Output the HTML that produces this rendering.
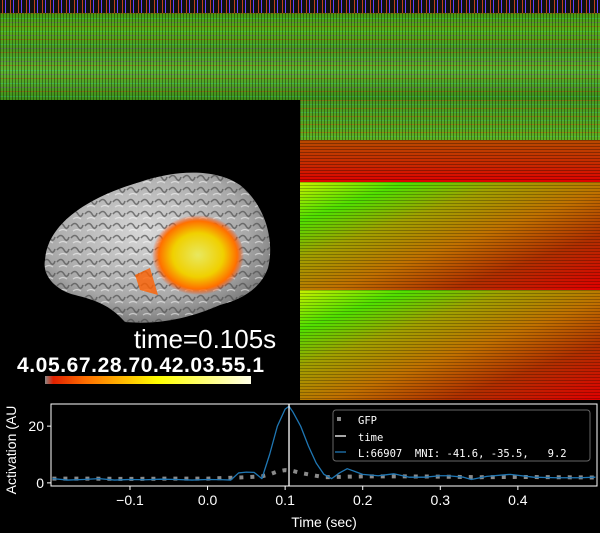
<!DOCTYPE html>
<html><head><meta charset="utf-8"><style>
body{margin:0;background:#000;width:600px;height:533px;overflow:hidden;position:relative;font-family:"Liberation Sans",sans-serif}
.abs{position:absolute}
#top{left:0;top:0;width:600px;height:100px;
background:
repeating-linear-gradient(90deg,rgba(0,0,0,.35) 0 1px,transparent 1px 3px),
repeating-linear-gradient(180deg,rgba(255,0,0,.25) 0 1px,transparent 1px 5px,rgba(0,255,255,.18) 5px 6px,transparent 6px 9px,rgba(160,0,255,.2) 9px 10px,transparent 10px 13px),
linear-gradient(180deg,#3a8a10,#58b018 30%,#4a9a20 50%,#60b830 70%,#3f8f18)}
#ticks{left:0;top:0;width:600px;height:13px;background:repeating-linear-gradient(90deg,#111 0 2px,#c04020 2px 3px,#111 3px 5px,#6040ff 5px 6px,#111 6px 8px)}
#rnoise{left:300px;top:100px;width:300px;height:40px;background:
repeating-linear-gradient(90deg,rgba(0,0,0,.35) 0 1px,transparent 1px 3px),
repeating-linear-gradient(180deg,rgba(255,40,0,.3) 0 1px,transparent 1px 4px,rgba(0,255,255,.15) 4px 5px,transparent 5px 8px),
linear-gradient(180deg,#4a9a20,#60b020)}
#band1{left:300px;top:140px;width:300px;height:42px;background:
repeating-linear-gradient(180deg,rgba(0,0,0,.3) 0 1px,transparent 1px 3px),
linear-gradient(180deg,#b84a00,#c82800 60%,#e00000)}
.band2{left:300px;width:300px;background:
repeating-linear-gradient(180deg,rgba(0,0,0,.25) 0 1px,transparent 1px 3px),
linear-gradient(160deg,#c8f000 0%,#50e000 18%,#a0a000 35%,#c07000 55%,#b03000 75%,#e00000 100%)}
</style></head><body>
<div id="top" class="abs"></div>
<div id="ticks" class="abs"></div>
<div id="rnoise" class="abs"></div>
<div id="band1" class="abs"></div>
<div class="abs band2" style="top:182px;height:108px"></div>
<div class="abs band2" style="top:290px;height:110px"></div>

<svg class="abs" style="left:0;top:100px" width="300" height="300">
<defs>
<radialGradient id="bg" cx="45%" cy="40%" r="65%"><stop offset="0" stop-color="#d8d8d8"/><stop offset="0.7" stop-color="#a8a8a8"/><stop offset="1" stop-color="#707070"/></radialGradient>
<radialGradient id="act" cx="50%" cy="50%" r="50%"><stop offset="0" stop-color="#e8e860"/><stop offset="0.55" stop-color="#f0d000"/><stop offset="0.85" stop-color="#ff7000"/><stop offset="1" stop-color="#ff4000" stop-opacity="0"/></radialGradient>
<pattern id="gyri" width="14" height="12" patternUnits="userSpaceOnUse"><path d="M1,6 Q5,1 8,6 T13,5" stroke="#505050" stroke-width="1.6" fill="none" opacity=".7"/><path d="M3,11 Q7,8 11,11" stroke="#fff" stroke-width="1.2" fill="none" opacity=".5"/></pattern>
</defs>
<g>
<path d="M45,160 C48,120 95,95 140,82 C175,70 215,68 240,85 C265,105 275,140 268,168 C260,190 240,200 220,205 C190,218 160,225 125,222 C110,205 95,200 75,195 C55,190 42,175 45,160Z" fill="url(#bg)"/>
<path d="M45,160 C48,120 95,95 140,82 C175,70 215,68 240,85 C265,105 275,140 268,168 C260,190 240,200 220,205 C190,218 160,225 125,222 C110,205 95,200 75,195 C55,190 42,175 45,160Z" fill="url(#gyri)"/>
</g>
<ellipse cx="198" cy="155" rx="46" ry="40" fill="url(#act)"/>
<path d="M135,175 L150,168 L158,195 L140,190Z" fill="#ff6000" opacity=".8"/>
<text x="205" y="248" fill="#fff" font-size="26" text-anchor="middle">time=0.105s</text>
<text x="17" y="272" fill="#fff" font-size="21" font-weight="bold" textLength="247">4.05.67.28.70.42.03.55.1</text>
<defs><linearGradient id="cb"><stop offset="0" stop-color="#888"/><stop offset="0.04" stop-color="#e02000"/><stop offset="0.2" stop-color="#ff7000"/><stop offset="0.55" stop-color="#ffff00"/><stop offset="1" stop-color="#ffffe8"/></linearGradient></defs>
<rect x="45" y="276" width="206" height="8" fill="url(#cb)"/>
</svg>

<svg id="chart" class="abs" style="left:0;top:400px" width="600" height="133"></svg>
<script>
const times=[-0.2,-0.18,-0.16,-0.14,-0.12,-0.1,-0.08,-0.06,-0.04,-0.02,0,0.02,0.03,0.04,0.05,0.06,0.07,0.08,0.09,0.1,0.105,0.11,0.12,0.13,0.14,0.15,0.16,0.17,0.18,0.19,0.2,0.22,0.24,0.26,0.28,0.3,0.31,0.33,0.34,0.36,0.39,0.42,0.45,0.48,0.5];
const activation=[1.5,1,1.2,1.5,1,1.2,1.1,1.3,1.2,1,1.2,1.1,1,3.5,3.8,3.7,1.5,10,20,26,27,25,20,13,7,3,1.5,3.5,5,4,3,2.5,3.2,2,2,2.5,2.5,2,1.2,2.3,3,2,1.8,1.8,2];
const gfpTimes=[-0.2,-0.15,-0.1,-0.05,0,0.05,0.07,0.08,0.09,0.1,0.11,0.12,0.13,0.14,0.15,0.2,0.25,0.3,0.35,0.4,0.45,0.5];
const gfp=[1.5,1.5,1.4,1.5,1.5,2,2.3,3,4,4.5,4.2,3.5,3,2.5,2,2.3,2.3,2.2,2,2.1,2,1.9];
const xTicks=[-0.1,0,0.1,0.2,0.3,0.4];
const xTickLabels=["\u22120.1","0.0","0.1","0.2","0.3","0.4"];
const yTicks=[0,20];
const cursorTime=0.105;
const X0=51,X1=597,Y0=4,Y1=86;
const tmin=-0.2018,tmax=0.502,vmin=-1.1,vmax=27.8;
const sx=t=>X0+(t-tmin)/(tmax-tmin)*(X1-X0);
const sy=v=>Y1-(v-vmin)/(vmax-vmin)*(Y1-Y0);
const svg=document.getElementById('chart');const NS='http://www.w3.org/2000/svg';
function mk(tag,attrs,parent){const e=document.createElementNS(NS,tag);for(const k in attrs)e.setAttribute(k,attrs[k]);(parent||svg).appendChild(e);return e;}
const clip=mk('clipPath',{id:'cp'});mk('rect',{x:X0,y:Y0,width:X1-X0,height:Y1-Y0},clip);
const g=mk('polyline',{points:gfpTimes.map((t,i)=>sx(t)+','+sy(gfp[i])).join(' '),fill:'none',stroke:'#8a8a8a','stroke-width':4,'stroke-dasharray':'4 7','clip-path':'url(#cp)'});


const b=mk('polyline',{points:times.map((t,i)=>sx(t)+','+sy(activation[i])).join(' '),fill:'none',stroke:'#1f77b4','stroke-width':1.3,'stroke-linejoin':'round','clip-path':'url(#cp)'});


const c=mk('line',{x1:sx(cursorTime),x2:sx(cursorTime),y1:Y0,y2:Y1,stroke:'#fff','stroke-width':1.3});


const fr=mk('rect',{x:X0,y:Y0,width:X1-X0,height:Y1-Y0,fill:'none',stroke:'#fff','stroke-width':1});


xTicks.forEach((t,i)=>{mk('line',{x1:sx(t),x2:sx(t),y1:Y1,y2:Y1+4,stroke:'#fff'});
const tx=mk('text',{x:sx(t),y:Y1+19,fill:'#fff','font-size':14,'text-anchor':'middle'});tx.textContent=xTickLabels[i];

});
yTicks.forEach(v=>{mk('line',{x1:X0-4,x2:X0,y1:sy(v),y2:sy(v),stroke:'#fff'});
const tx=mk('text',{x:X0-7,y:sy(v)+5,fill:'#fff','font-size':14,'text-anchor':'end'});tx.textContent=v;

});
const xl=mk('text',{x:324,y:127,fill:'#fff','font-size':14,'text-anchor':'middle'});xl.textContent='Time (sec)';


const yl=mk('text',{x:0,y:0,fill:'#fff','font-size':14,'text-anchor':'middle',transform:'translate(16,50) rotate(-90)'});yl.textContent='Activation (AU';


const lg=mk('g',{});


mk('rect',{x:333,y:10,width:257,height:51,rx:3,fill:'#000',stroke:'#666','fill-opacity':0.8},lg);
mk('rect',{x:337,y:17,width:4,height:4,fill:'#8a8a8a'},lg);
mk('line',{x1:335,x2:346,y1:36,y2:36,stroke:'#fff','stroke-width':1.3},lg);
mk('line',{x1:335,x2:346,y1:52,y2:52,stroke:'#1f77b4','stroke-width':1.3},lg);
[['GFP',24],['time',41],['L:66907  MNI: -41.6, -35.5,   9.2',57]].forEach(([s,y])=>{const t=mk('text',{x:358,y:y,fill:'#fff','font-size':10.5,'font-family':'DejaVu Sans Mono, monospace',style:'white-space:pre'},lg);t.textContent=s;

});
</script>
</body></html>
